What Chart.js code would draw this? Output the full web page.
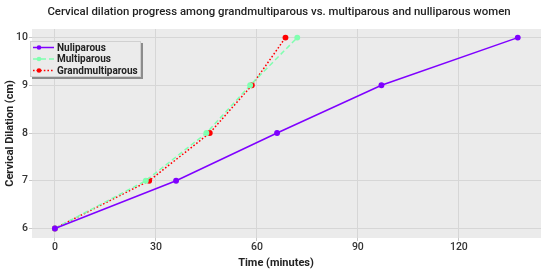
<!DOCTYPE html>
<html lang="en">
<head>
  <meta charset="UTF-8" />
  <title>Cervical dilation</title>
  <script src="https://cdn.jsdelivr.net/npm/chart.js"></script>
  <style>
    html, body {
      margin: 0;
      padding: 0;
      background: #ffffff;
    }
    #wrap {
      width: 550px;
      height: 272px;
    }
  </style>
</head>
<body>
  <div id="wrap"><canvas id="grafica"></canvas></div>

  <script>
    // dilation levels (cm) and the minute at which each group reached them
    const dilacion = [6, 7, 8, 9, 10];
    const tiempoNuli = [0, 36, 66, 97, 137.5];
    const tiempoMulti = [0, 27, 45, 58, 72];
    const tiempoGrand = [0, 28, 46, 58.5, 68.5];

    const ticksX = [0, 30, 60, 90, 120];
    const ticksY = [6, 7, 8, 9, 10];

    const nombres = ['Nuliparous', 'Multiparous', 'Grandmultiparous'];
    const titulo = 'Cervical dilation progress among grandmultiparous vs. multiparous and nulliparous women';
    const tituloX = 'Time (minutes)';

    function puntos(tiempos) {
      return tiempos.map((t, i) => ({ x: t, y: dilacion[i] }));
    }

    // grey panel behind the plot area
    const fondoPanel = {
      id: 'fondoPanel',
      beforeDraw(chart) {
        const { ctx, chartArea: a } = chart;
        ctx.save();
        ctx.fillStyle = '#ebebeb';
        ctx.fillRect(a.left, a.top, a.right - a.left, a.bottom - a.top);
        ctx.restore();
      }
    };

    // chart title and x axis title, placed where the original has them
    const textos = {
      id: 'textos',
      afterDraw(chart) {
        const ctx = chart.ctx;
        ctx.save();
        ctx.fillStyle = '#222222';
        ctx.textAlign = 'center';
        ctx.textBaseline = 'middle';
        ctx.font = '500 11.4px Roboto';
        ctx.fillText(titulo, 279, 12);
        ctx.font = 'bold 11px Roboto';
        ctx.fillText(tituloX, 276, 263);
        ctx.restore();
      }
    };

    // boxed legend inside the panel, top-left
    const leyenda = {
      id: 'leyenda',
      afterDraw(chart) {
        const ctx = chart.ctx;
        const x = 30, y = 41, w = 111, h = 36;
        ctx.save();
        ctx.fillStyle = '#8c8c8c';
        ctx.fillRect(x + 2, y + 2, w, h);
        ctx.fillStyle = '#ebebeb';
        ctx.fillRect(x, y, w, h);
        ctx.strokeStyle = '#d0d0d0';
        ctx.lineWidth = 1;
        ctx.strokeRect(x + 0.5, y + 0.5, w - 1, h - 1);

        chart.data.datasets.forEach((ds, i) => {
          const cy = y + 6.5 + i * 11.5;
          ctx.strokeStyle = ds.borderColor;
          ctx.lineWidth = 1.5;
          ctx.setLineDash(ds.borderDash || []);
          ctx.beginPath();
          ctx.moveTo(x + 3, cy);
          ctx.lineTo(x + 24, cy);
          ctx.stroke();
          ctx.setLineDash([]);
          ctx.fillStyle = ds.borderColor;
          ctx.beginPath();
          ctx.arc(x + 9, cy, 2.3, 0, Math.PI * 2);
          ctx.fill();

          ctx.fillStyle = '#222222';
          ctx.font = 'bold 10px Roboto';
          ctx.textBaseline = 'middle';
          ctx.fillText(ds.label, x + 27, cy + 0.5);
        });
        ctx.restore();
      }
    };

    const config = {
      type: 'line',
      data: {
        datasets: [
          {
            label: nombres[0],
            data: puntos(tiempoNuli),
            borderColor: '#7f00ff',
            backgroundColor: '#7f00ff',
            borderWidth: 1.5,
            pointRadius: 2.2,
            fill: false
          },
          {
            label: nombres[1],
            data: puntos(tiempoMulti),
            borderColor: '#80ffb0',
            backgroundColor: '#80ffb0',
            borderWidth: 1.5,
            borderDash: [5, 3],
            pointRadius: 2.2,
            fill: false
          },
          {
            label: nombres[2],
            data: puntos(tiempoGrand),
            borderColor: '#ff0000',
            backgroundColor: '#ff0000',
            borderWidth: 1.5,
            borderDash: [1.6, 2],
            pointRadius: 2.2,
            fill: false
          }
        ]
      },
      options: {
        responsive: true,
        maintainAspectRatio: false,
        animation: false,
        layout: { padding: { left: 0, right: 9, top: 29, bottom: 0 } },
        plugins: {
          legend: { display: false },
          tooltip: { enabled: false },
          title: { display: false }
        },
        scales: {
          x: {
            type: 'linear',
            min: -6.8,
            max: 144.4,
            afterBuildTicks(scale) {
              scale.ticks = ticksX.map(v => ({ value: v }));
            },
            afterFit(scale) {
              scale.height = 34;
            },
            grid: {
              color: '#d6d6d6',
              lineWidth: 1,
              tickLength: 3,
              tickColor: '#c8c8c8'
            },
            border: { display: false },
            ticks: {
              color: '#333333',
              padding: 0,
              font: { family: 'Roboto', size: 10.5, weight: '500' }
            }
          },
          y: {
            type: 'linear',
            min: 5.8,
            max: 10.18,
            afterBuildTicks(scale) {
              scale.ticks = ticksY.map(v => ({ value: v }));
            },
            afterFit(scale) {
              scale.width = 32;
            },
            grid: {
              color: '#d6d6d6',
              lineWidth: 1,
              tickLength: 3,
              tickColor: '#c8c8c8'
            },
            border: { display: false },
            ticks: {
              color: '#333333',
              padding: 1,
              font: { family: 'Roboto', size: 10.5, weight: '500' }
            },
            title: {
              display: true,
              text: 'Cervical Dilation (cm)',
              color: '#222222',
              font: { family: 'Roboto', size: 11, weight: 'bold' },
              padding: { top: 4, bottom: 0 }
            }
          }
        }
      },
      plugins: [fondoPanel, textos, leyenda]
    };

    const ctx = document.getElementById('grafica').getContext('2d');
    window.miGrafica = new Chart(ctx, config);
  </script>
</body>
</html>
